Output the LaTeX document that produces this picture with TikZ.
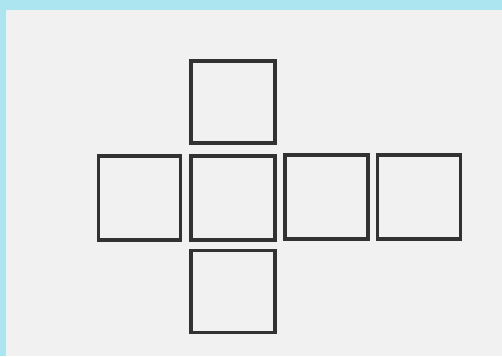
\documentclass[tikz,border=0pt]{standalone}
\definecolor{frame}{RGB}{172,228,240}
\definecolor{paper}{RGB}{241,241,241}
\definecolor{ink}{RGB}{50,50,50}
\begin{document}
\begin{tikzpicture}[x=1pt,y=-1pt,
  face/.style={draw=ink, line width=3.2pt, rectangle, minimum width=84pt, minimum height=84pt, inner sep=0pt, outer sep=0pt}]
\useasboundingbox (0,0) rectangle (502,356);
\fill[frame] (0,0) rectangle (502,356);
\fill[paper] (6,10) rectangle (502,356);
\node[face, minimum height=82pt] (top) at (233,102) {};
\node[face, minimum width=82.5pt] (left) at (139.5,198) {};
\node[face] (mid) at (233,198) {};
\node[face, minimum width=83pt] (right) at (326.5,197) {};
\node[face, minimum width=83pt] (far) at (419,197) {};
\node[face, minimum height=82pt] (bottom) at (233,291.5) {};
\end{tikzpicture}
\end{document}
